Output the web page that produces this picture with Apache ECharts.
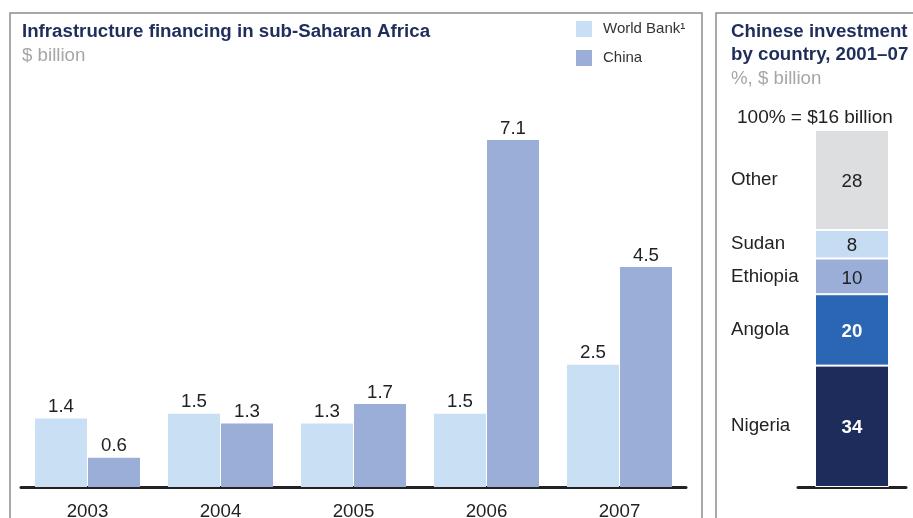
<!DOCTYPE html>
<html>
<head>
<meta charset="utf-8">
<script src="https://cdn.jsdelivr.net/npm/echarts@6/dist/echarts.min.js"></script>
<style>
html,body{margin:0;padding:0;background:#fff;}
#c{width:913px;height:518px;}
</style>
</head>
<body>
<div id="c"></div>
<script>
const years = ['2003', '2004', '2005', '2006', '2007'];
const worldBank = [1.4, 1.5, 1.3, 1.5, 2.5];
const china = [0.6, 1.3, 1.7, 7.1, 4.5];

const countries = ['Nigeria', 'Angola', 'Ethiopia', 'Sudan', 'Other'];
const countryShares = [34, 20, 10, 8, 28];
const totalBillion = 16;

const FONT = '"Liberation Sans", Arial, sans-serif';
const FS = 18.7;
const navy = '#1f2d5c';
const segColors = ['#1e2c5b', '#2a66b4', '#9aaed8', '#c6dcf2', '#dcdee0'];
const segLabelColors = ['#ffffff', '#ffffff', '#222222', '#222222', '#222222'];
const segLabelBold = ['bold', 'bold', 'normal', 'normal', 'normal'];

// midpoints of stacked segments (for country name labels)
const mids = [];
let acc = 0;
countryShares.forEach(v => { mids.push(acc + v / 2); acc += v; });

const chart = echarts.init(document.getElementById('c'), null, {renderer: 'canvas'});

const option = {
  animation: false,
  textStyle: {fontFamily: FONT},
  title: [
    {
      text: 'Infrastructure financing in sub-Saharan Africa',
      subtext: '$ billion',
      left: 22, top: 22, itemGap: 5, padding: 0,
      textStyle: {fontFamily: FONT, fontSize: FS, fontWeight: 'bold', color: navy},
      subtextStyle: {fontFamily: FONT, fontSize: FS, color: '#a6a6a6'}
    },
    {
      text: 'Chinese investment\nby country, 2001–07',
      subtext: '%, $ billion',
      left: 731, top: 20, itemGap: 3, padding: 0,
      textStyle: {fontFamily: FONT, fontSize: FS, fontWeight: 'bold', color: navy, lineHeight: 23},
      subtextStyle: {fontFamily: FONT, fontSize: FS, color: '#a6a6a6'}
    },
    {
      text: '100% = $' + totalBillion + ' billion',
      left: 737, top: 108, padding: 0,
      textStyle: {fontFamily: FONT, fontSize: 19, fontWeight: 'normal', color: '#222'}
    }
  ],
  legend: {
    orient: 'vertical',
    left: 576, top: 21,
    itemWidth: 16, itemHeight: 16, itemGap: 13,
    icon: 'rect',
    padding: 0,
    data: ['World Bank¹', 'China'],
    textStyle: {fontFamily: FONT, fontSize: 15, color: '#333', padding: [3, 0, 0, 6]}
  },
  graphic: [
    {type: 'rect', shape: {x: 10, y: 13, width: 692, height: 600},
     style: {fill: 'none', stroke: '#8c8c8c', lineWidth: 1.5}, silent: true, z: -1},
    {type: 'rect', shape: {x: 716, y: 13, width: 300, height: 600},
     style: {fill: 'none', stroke: '#8c8c8c', lineWidth: 1.5}, silent: true, z: -1}
  ],
  grid: [
    {left: 21, right: 227, top: 140, bottom: 31, containLabel: false, outerBoundsMode: 'none'},
    {left: 798, right: 7, top: 130, bottom: 31, containLabel: false, outerBoundsMode: 'none'}
  ],
  xAxis: [
    {
      type: 'category', gridIndex: 0, data: years,
      axisLine: {lineStyle: {color: '#222', width: 3}},
      axisTick: {show: false},
      axisLabel: {fontFamily: FONT, fontSize: FS, color: '#222', margin: 15}
    },
    {
      type: 'category', gridIndex: 1, data: [''],
      axisLine: {lineStyle: {color: '#222', width: 3}},
      axisTick: {show: false},
      axisLabel: {show: false}
    }
  ],
  yAxis: [
    {type: 'value', gridIndex: 0, min: 0, max: 7.1, show: false},
    {
      type: 'value', gridIndex: 1, min: 0, max: 100,
      axisLine: {show: false}, axisTick: {show: false}, splitLine: {show: false},
      axisLabel: {
        show: true,
        customValues: mids,
        align: 'left',
        margin: 67,
        fontFamily: FONT, fontSize: FS, color: '#222',
        padding: [5, 0, 0, 0],
        formatter: function (val) {
          const i = mids.findIndex(m => Math.abs(m - val) < 1e-6);
          return i >= 0 ? countries[i] : '';
        }
      }
    }
  ],
  series: [
    {
      name: 'World Bank¹', type: 'bar', xAxisIndex: 0, yAxisIndex: 0,
      data: worldBank, barWidth: 52, barGap: '2%',
      itemStyle: {color: '#c9dff3'},
      label: {show: true, position: 'top', distance: 2, fontFamily: FONT, fontSize: FS, color: '#222',
              formatter: p => p.value.toFixed(1)}
    },
    {
      name: 'China', type: 'bar', xAxisIndex: 0, yAxisIndex: 0,
      data: china, barWidth: 52, barGap: '2%',
      itemStyle: {color: '#9aaed8'},
      label: {show: true, position: 'top', distance: 2, fontFamily: FONT, fontSize: FS, color: '#222',
              formatter: p => p.value.toFixed(1)}
    }
  ].concat(countries.map((c, i) => ({
    name: c, type: 'bar', stack: 'cn', xAxisIndex: 1, yAxisIndex: 1,
    data: [countryShares[i]], barWidth: 74,
    itemStyle: {color: segColors[i], borderColor: '#fff', borderWidth: 1},
    label: {show: true, position: 'inside', fontFamily: FONT, fontSize: FS,
            color: segLabelColors[i], fontWeight: segLabelBold[i], formatter: '{c}',
            offset: [0, 2]}
  })))
};

chart.setOption(option);
</script>
</body>
</html>
